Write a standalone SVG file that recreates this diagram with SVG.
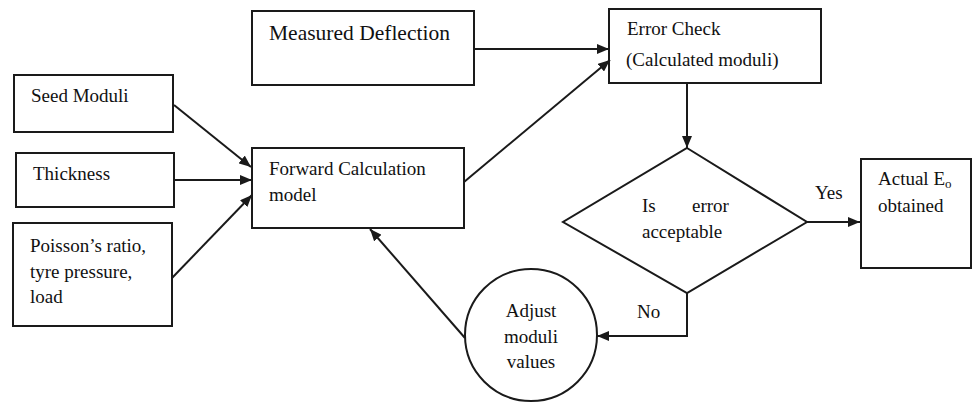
<svg xmlns="http://www.w3.org/2000/svg" width="973" height="404" viewBox="0 0 973 404">
<style>
.b{fill:#fff;stroke:#1a1a1a;stroke-width:2}
.t{font-family:"Liberation Serif","Times New Roman",serif;font-size:19px;fill:#111}
.c{fill:none;stroke:#1a1a1a;stroke-width:2}
</style>
<defs>
<marker id="ah" viewBox="0 0 12 10" refX="12" refY="5" markerWidth="12" markerHeight="10" markerUnits="userSpaceOnUse" orient="auto">
<path d="M0,0 L12,5 L0,10 Z" fill="#1a1a1a"/>
</marker>
</defs>
<rect width="973" height="404" fill="#fff"/>
<g id="measured"><rect class="b" x="252" y="11" width="222" height="74"/><text class="t" x="269" y="40" style="font-size:21.5px">Measured Deflection</text></g>
<g id="errorcheck"><rect class="b" x="609" y="9" width="212" height="74"/><text class="t" x="627" y="35">Error Check</text><text class="t" x="626" y="66">(Calculated moduli)</text></g>
<g id="seed"><rect class="b" x="14" y="75" width="159" height="57"/><text class="t" x="31" y="102">Seed Moduli</text></g>
<g id="thickness"><rect class="b" x="16" y="153" width="158" height="54"/><text class="t" x="33" y="180">Thickness</text></g>
<g id="poisson"><rect class="b" x="13" y="223" width="159" height="103"/><text class="t" x="30" y="252">Poisson’s ratio,</text><text class="t" x="30" y="278">tyre pressure,</text><text class="t" x="30" y="303">load</text></g>
<g id="forward"><rect class="b" x="252" y="148" width="212" height="80"/><text class="t" x="269" y="175">Forward Calculation</text><text class="t" x="269" y="201">model</text></g>
<g id="decision"><polygon class="b" points="687,148 807,222 687,293 563,222"/><text class="t" x="642" y="212">Is</text><text class="t" x="692" y="212">error</text><text class="t" x="642" y="238">acceptable</text></g>
<g id="actual"><rect class="b" x="861" y="159" width="110" height="109"/><text class="t" x="878" y="185">Actual E<tspan font-size="13" dy="3">o</tspan></text><text class="t" x="878" y="212">obtained</text></g>
<g id="adjust"><circle class="b" cx="531" cy="335" r="66"/><text class="t" x="531" y="317" text-anchor="middle">Adjust</text><text class="t" x="531" y="343" text-anchor="middle">moduli</text><text class="t" x="531" y="368" text-anchor="middle">values</text></g>
<g id="connectors">
<line class="c" x1="474" y1="49" x2="609" y2="49" marker-end="url(#ah)"/>
<line class="c" x1="464" y1="182" x2="610" y2="60" marker-end="url(#ah)"/>
<line class="c" x1="687" y1="83" x2="687" y2="148" marker-end="url(#ah)"/>
<line class="c" x1="807" y1="222" x2="860" y2="222" marker-end="url(#ah)"/>
<polyline class="c" points="687,293 687,336 597,336" marker-end="url(#ah)"/>
<line class="c" x1="465" y1="338" x2="370" y2="229" marker-end="url(#ah)"/>
<line class="c" x1="174" y1="105" x2="251" y2="167" marker-end="url(#ah)"/>
<line class="c" x1="174" y1="180" x2="252" y2="180" marker-end="url(#ah)"/>
<line class="c" x1="172" y1="278" x2="252" y2="195" marker-end="url(#ah)"/>
<text class="t" x="815" y="199">Yes</text>
<text class="t" x="637" y="318">No</text>
</g>
</svg>
